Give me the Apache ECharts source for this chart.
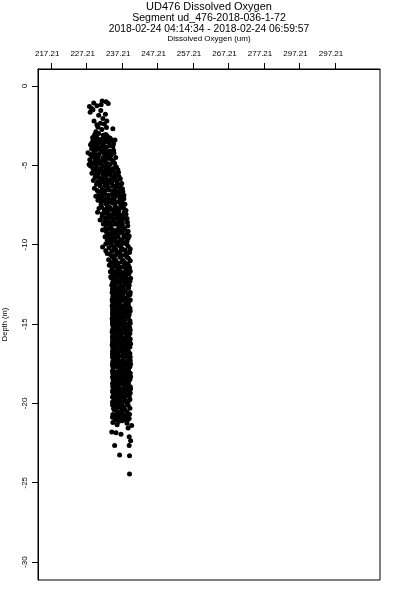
<!DOCTYPE html>
<html><head><meta charset="utf-8">
<script src="https://cdn.jsdelivr.net/npm/echarts@6/dist/echarts.min.js"></script>
<style>html,body{margin:0;padding:0;background:#fff}#c{width:400px;height:600px}</style>
</head><body><div id="c"></div>
<script>
const titleLines = ["UD476 Dissolved Oxygen", "Segment ud_476-2018-036-1-72", "2018-02-24 04:14:34 - 2018-02-24 06:59:57"];
const xAxisTitle = "Dissolved Oxygen (um)";
const yAxisTitle = "Depth (m)";
const xTickValues = [217.21, 227.21, 237.21, 247.21, 257.21, 267.21, 277.21, 287.21, 297.21];
const xTickLabels = ["217.21", "227.21", "237.21", "247.21", "257.21", "267.21", "277.21", "297.21", "297.21"];
const yTickValues = [0, -5, -10, -15, -20, -25, -30];
const yTickLabels = ["0", "-5", "-10", "-15", "-20", "-25", "-30"];

// [oxygen (um), depth (m)]
const band0to5 = [
 [231.6,-0.95],[232.7,-1.0],[233.3,-1.1],[228.0,-1.3],[230.1,-1.25],[229.0,-1.5],[231.2,-1.55],[228.2,-1.65],
 [230.6,-1.85],[232.5,-1.78],[231.8,-2.05],[229.3,-2.2],[231.1,-2.35],[232.2,-2.4],[230.4,-2.6],[234.6,-2.7],
 [229.2,-1.08],[231.3,-1.18],[228.6,-1.42],[232.9,-2.2],[230.1,-2.45],[231.5,-2.75],[229.8,-2.88],[232.8,-2.62],
 [229.5,-3.05],[230.6,-3.0],[231.9,-3.1],[233.0,-3.15],[228.9,-3.25],[230.2,-3.3],[231.4,-3.35],[232.5,-3.3],
 [234.3,-3.4],[235.2,-3.4],[229.6,-3.5],[230.8,-3.55],[232.0,-3.6],[233.4,-3.55],[228.3,-3.7],[229.2,-3.75],
 [231.5,-3.8],[232.8,-3.85],[234.6,-3.8],[228.6,-3.95],[230.1,-4.0],[231.2,-4.05],[233.7,-4.1],[227.6,-4.2],
 [229.4,-4.2],[230.7,-4.3],[232.3,-4.25],[234.1,-4.35],[228.8,-4.45],[231.9,-4.5],[233.2,-4.55],[235.4,-4.5],
 [228.1,-4.65],[229.7,-4.7],[230.9,-4.75],[232.6,-4.8],[234.7,-4.75],[229.0,-4.9],[231.4,-4.95],[233.8,-4.95],
 [230.0,-3.1],[232.6,-3.05],[233.8,-3.28],[231.0,-3.4],[229.0,-3.45],[232.8,-3.48],[234.8,-3.62],[230.3,-3.62],
 [228.7,-3.58],[231.9,-3.72],[233.8,-3.75],[229.8,-3.85],[230.8,-3.9],[232.3,-4.0],[234.8,-4.05],[229.2,-4.08],
 [231.4,-4.18],[233.0,-4.15],[228.3,-4.32],[230.0,-4.38],[232.9,-4.4],[234.9,-4.22],[229.5,-4.55],[230.5,-4.52],
 [234.0,-4.62],[228.5,-4.82],[232.0,-4.68],[230.2,-4.88],[233.1,-4.9],[235.1,-4.88],[227.9,-4.95]
];
const band5to10 = [
 [228.3,-5.05],[230.0,-5.1],[231.8,-5.05],[233.5,-5.15],[235.6,-5.1],[229.2,-5.3],[232.6,-5.35],[234.4,-5.3],[236.2,-5.45],[230.8,-5.45],[228.7,-5.5],
 [231.9,-5.6],[233.9,-5.6],[235.3,-5.7],[229.6,-5.75],[230.9,-5.8],[232.8,-5.85],[236.7,-5.85],[234.5,-5.95],[229.1,-5.95],
 [231.3,-6.05],[233.2,-6.1],[235.8,-6.05],[237.1,-6.15],[230.0,-6.2],[232.3,-6.3],[234.6,-6.3],[236.4,-6.4],[229.4,-6.45],[231.6,-6.5],
 [233.6,-6.55],[235.3,-6.6],[237.4,-6.65],[230.6,-6.7],[232.4,-6.8],[234.4,-6.85],[236.6,-6.9],[229.8,-6.95],[231.5,-7.0],
 [233.1,-7.05],[235.0,-7.1],[237.7,-7.1],[230.4,-7.2],[232.2,-7.25],[236.2,-7.3],[234.1,-7.35],[238.0,-7.45],[231.3,-7.45],
 [233.0,-7.55],[235.3,-7.6],[236.9,-7.65],[230.7,-7.7],[232.2,-7.8],[234.5,-7.8],[238.3,-7.85],[230.3,-7.95],[236.0,-7.95],
 [231.6,-8.05],[233.5,-8.1],[235.5,-8.1],[237.5,-8.2],[232.6,-8.3],[234.6,-8.35],[238.6,-8.35],[231.0,-8.45],[236.4,-8.5],
 [233.3,-8.55],[235.3,-8.6],[237.3,-8.65],[231.9,-8.7],[234.0,-8.8],[238.8,-8.8],[236.3,-8.9],[232.6,-8.95],[231.7,-9.07],
 [234.5,-9.05],[236.9,-9.1],[238.9,-9.15],[232.8,-9.2],[235.6,-9.3],[233.7,-9.35],[237.8,-9.4],[232.4,-9.5],[236.1,-9.5],
 [234.5,-9.55],[238.9,-9.6],[233.0,-9.7],[236.9,-9.7],[235.3,-9.8],[237.9,-9.9],[232.6,-9.95],[234.2,-10.0],
 [229.0,-5.2],[231.0,-5.22],[232.7,-5.12],[234.8,-5.2],[236.0,-5.28],[230.2,-5.38],[233.6,-5.42],[235.2,-5.48],
 [229.8,-5.58],[232.8,-5.6],[234.9,-5.75],[236.3,-5.7],[231.9,-5.88],[233.8,-5.92],[235.7,-5.98],
 [230.4,-6.02],[232.3,-6.08],[234.3,-6.12],[236.7,-6.22],[231.0,-6.28],[233.3,-6.38],[235.3,-6.42],[237.3,-6.48],
 [230.2,-6.58],[232.4,-6.6],[234.5,-6.62],[236.3,-6.68],[230.9,-6.85],[233.3,-6.88],[235.5,-6.92],[237.7,-6.88],
 [230.6,-7.05],[232.3,-7.1],[234.2,-7.15],[236.6,-7.08],[231.2,-7.25],[233.3,-7.3],[235.3,-7.35],[237.2,-7.28],
 [232.7,-7.42],[235.1,-7.45],[236.8,-7.5],[231.4,-7.62],[233.8,-7.65],[235.8,-7.72],[237.6,-7.68],[233.3,-7.88],[235.2,-7.92],[237.8,-7.95],
 [232.6,-8.02],[234.6,-8.08],[236.6,-8.12],[238.3,-8.08],[231.6,-8.22],[233.6,-8.28],[235.7,-8.32],[237.6,-8.38],
 [232.3,-8.48],[234.5,-8.52],[237.1,-8.52],[238.7,-8.58],[232.9,-8.68],[235.2,-8.72],[237.3,-8.82],[233.9,-8.92],[237.9,-8.98],
 [233.5,-9.02],[235.8,-9.08],[237.9,-9.05],[234.3,-9.22],[236.8,-9.25],[238.6,-9.32],[234.6,-9.42],[233.2,-9.38],
 [235.3,-9.58],[237.7,-9.55],[239.2,-9.45],[233.7,-9.62],[236.2,-9.82],[238.6,-9.78],[233.2,-9.88],[235.7,-9.98],[238.5,-9.98],
 [231.8,-5.33],[233.9,-5.47],[230.4,-5.67],[234.3,-5.83],[232.9,-6.23],[235.6,-6.27],[231.7,-6.73],[235.1,-6.77],[233.9,-7.27],[236.9,-7.37],
 [232.9,-7.73],[236.3,-7.83],[234.1,-8.23],[236.9,-8.33],[233.8,-8.63],[236.4,-8.73],[235.1,-9.17],[237.3,-9.27],[234.1,-9.77],[237.3,-9.83]
];
const band10to15 = [
 [236.3,-10.05],[238.9,-10.1],[231.7,-10.14],[233.5,-10.2],[235.2,-10.25],[237.5,-10.3],[234.3,-10.4],[236.7,-10.45],[239.3,-10.5],
 [233.0,-10.55],[235.6,-10.6],[237.9,-10.65],[234.4,-10.75],[236.6,-10.8],[239.0,-10.85],[233.4,-10.95],[235.4,-11.0],
 [237.6,-11.05],[234.1,-11.1],[236.2,-11.15],[238.8,-11.2],[233.6,-11.3],[235.3,-11.35],[237.3,-11.4],[239.3,-11.45],[234.4,-11.5],
 [236.3,-11.55],[238.3,-11.6],[233.9,-11.7],[235.3,-11.75],[237.4,-11.8],[239.1,-11.85],[234.6,-11.95],[236.5,-12.0],
 [238.2,-12.05],[234.2,-12.1],[235.7,-12.15],[237.3,-12.25],[239.4,-12.3],[234.6,-12.35],[236.5,-12.4],[238.4,-12.5],
 [234.3,-12.55],[235.3,-12.6],[237.4,-12.65],[239.0,-12.75],[234.5,-12.8],[236.3,-12.85],[238.1,-12.95],[234.4,-13.0],
 [235.6,-13.05],[237.4,-13.1],[239.4,-13.15],[234.6,-13.25],[236.5,-13.3],[238.4,-13.35],[234.4,-13.45],[235.5,-13.5],[237.4,-13.5],
 [239.1,-13.6],[234.6,-13.65],[236.4,-13.7],[238.3,-13.75],[234.4,-13.85],[235.6,-13.9],[237.5,-13.95],[239.4,-14.0],
 [234.5,-14.05],[236.3,-14.1],[238.3,-14.15],[234.5,-14.25],[235.6,-14.3],[237.4,-14.35],[239.2,-14.4],[234.6,-14.5],[236.5,-14.5],
 [238.4,-14.55],[234.4,-14.65],[235.6,-14.7],[237.5,-14.75],[239.4,-14.8],[234.5,-14.9],[236.4,-14.95],[238.3,-15.0],
 [234.9,-10.15],[237.0,-10.22],[238.1,-10.35],[232.6,-10.38],[235.9,-10.48],[239.5,-10.28],[233.9,-10.62],[236.9,-10.7],
 [238.6,-10.78],[235.0,-10.88],[237.4,-10.98],[239.5,-11.02],
 [235.0,-11.12],[234.1,-11.22],[237.9,-11.28],[236.6,-11.42],[238.6,-11.52],[235.8,-11.62],[234.4,-11.58],[239.5,-11.68],
 [236.9,-11.72],[237.9,-11.92],[235.2,-11.88],[234.0,-12.02],
 [236.9,-12.08],[239.6,-12.12],[234.9,-12.2],[238.6,-12.28],[236.0,-12.32],[237.9,-12.42],[234.5,-12.45],[239.2,-12.55],
 [236.8,-12.62],[235.8,-12.72],[238.8,-12.68],[234.9,-12.92],[237.0,-12.98],
 [239.5,-13.02],[234.6,-13.08],[236.2,-13.18],[238.9,-13.22],[235.2,-13.32],[237.9,-13.42],[239.5,-13.48],[236.8,-13.58],
 [234.5,-13.55],[235.3,-13.72],[238.9,-13.82],[236.9,-13.88],[234.7,-13.95],
 [238.0,-14.02],[235.3,-14.08],[239.5,-14.18],[236.9,-14.22],[234.5,-14.38],[238.6,-14.42],[236.0,-14.42],[235.2,-14.58],
 [237.0,-14.62],[238.9,-14.68],[234.5,-14.78],[236.2,-14.82],[239.5,-14.95],[235.3,-14.98],
 [235.5,-10.33],[238.4,-10.57],[234.8,-10.83],[237.2,-11.07],[239.0,-11.33],[236.0,-11.47],[234.9,-11.77],[238.0,-11.73],
 [235.6,-12.03],[237.7,-12.17],[239.0,-12.43],[235.3,-12.47],[237.6,-12.83],[236.0,-12.97],[238.8,-13.07],[235.0,-13.17],
 [237.2,-13.23],[236.1,-13.43],[238.2,-13.57],[235.7,-13.63],[237.8,-13.83],[234.9,-13.77],[236.4,-14.03],[238.8,-14.27],
 [235.9,-14.23],[237.3,-14.47],[235.0,-14.43],[239.0,-14.53],[236.4,-14.67],[237.9,-14.87],[235.8,-14.87],[234.8,-14.57],
 [236.9,-10.03],[235.2,-10.67],[237.9,-11.13],[236.3,-11.83],[238.6,-12.17],[236.6,-12.73],[239.0,-13.87],[237.6,-14.17]
];
const band15to20 = [
 [234.5,-15.05],[235.6,-15.1],[237.4,-15.15],[239.3,-15.2],[234.6,-15.3],[236.5,-15.35],[238.4,-15.4],[234.4,-15.5],[235.7,-15.5],
 [237.5,-15.55],[239.4,-15.6],[234.6,-15.7],[236.4,-15.75],[238.4,-15.8],[234.5,-15.9],[235.6,-15.95],[237.5,-16.0],
 [239.3,-16.05],[234.5,-16.1],[236.4,-16.15],[238.4,-16.2],[234.4,-16.3],[235.6,-16.35],[237.5,-16.4],[239.4,-16.45],[234.6,-16.5],
 [236.5,-16.55],[238.3,-16.6],[234.5,-16.7],[235.6,-16.75],[237.6,-16.8],[239.4,-16.85],[234.6,-16.95],[236.4,-17.0],
 [238.4,-17.05],[234.5,-17.1],[235.7,-17.15],[237.5,-17.25],[239.5,-17.3],[234.6,-17.35],[236.5,-17.4],[238.5,-17.45],[234.5,-17.5],
 [235.6,-17.55],[237.5,-17.6],[239.4,-17.7],[234.7,-17.75],[236.5,-17.8],[238.4,-17.85],[234.5,-17.95],[235.7,-18.0],
 [237.6,-18.05],[239.5,-18.1],[234.6,-18.15],[236.4,-18.25],[238.5,-18.3],[234.5,-18.35],[235.7,-18.4],[237.6,-18.45],[239.4,-18.5],
 [234.7,-18.55],[236.5,-18.6],[238.4,-18.65],[234.5,-18.75],[235.8,-18.8],[237.6,-18.85],[239.5,-18.95],[234.7,-19.0],
 [236.4,-19.05],[238.4,-19.1],[234.5,-19.2],[235.7,-19.25],[237.6,-19.3],[239.5,-19.35],[234.8,-19.4],[236.5,-19.5],[238.5,-19.5],
 [234.5,-19.6],[235.8,-19.65],[237.6,-19.7],[239.4,-19.75],[234.8,-19.85],[236.6,-19.9],[238.5,-20.0],
 [236.9,-15.02],[238.8,-15.08],[235.0,-15.18],[236.1,-15.22],[238.0,-15.28],[239.5,-15.38],[234.5,-15.42],[237.0,-15.45],
 [235.2,-15.62],[238.9,-15.68],[236.9,-15.72],[234.5,-15.78],[237.9,-15.92],[239.5,-15.95],
 [236.1,-16.02],[238.0,-16.08],[235.2,-16.18],[237.0,-16.22],[239.6,-16.25],[234.6,-16.38],[238.9,-16.42],[236.0,-16.48],
 [237.9,-16.58],[235.2,-16.62],[239.0,-16.72],[236.9,-16.68],[234.5,-16.88],[238.0,-16.92],[235.4,-16.98],
 [237.0,-17.02],[239.5,-17.08],[235.2,-17.22],[236.2,-17.28],[238.9,-17.32],[237.9,-17.42],[235.3,-17.45],[239.6,-17.52],
 [236.9,-17.58],[234.5,-17.62],[238.0,-17.68],[236.1,-17.72],[239.0,-17.92],[237.0,-17.88],
 [234.6,-18.02],[236.2,-18.08],[238.9,-18.12],[235.3,-18.22],[237.9,-18.28],[239.6,-18.32],[236.9,-18.38],[234.9,-18.45],
 [238.1,-18.52],[235.3,-18.62],[237.0,-18.68],[239.0,-18.72],[236.2,-18.88],[234.6,-18.92],[238.0,-18.98],
 [235.2,-19.02],[237.0,-19.12],[239.6,-19.08],[236.1,-19.18],[238.9,-19.22],[234.6,-19.32],[237.9,-19.42],[235.3,-19.48],
 [239.2,-19.55],[236.9,-19.58],[235.9,-19.78],[238.0,-19.82],[234.5,-19.92],[237.2,-19.98],
 [235.4,-15.27],[237.7,-15.23],[236.3,-15.47],[238.3,-15.63],[235.6,-15.83],[237.1,-15.87],[239.1,-15.87],[234.8,-16.03],
 [236.8,-16.33],[238.3,-16.37],[235.5,-16.57],[237.3,-16.63],[236.1,-16.87],[238.8,-16.93],[234.9,-17.17],[237.6,-17.13],
 [236.3,-17.47],[238.3,-17.57],[235.1,-17.67],[237.3,-17.83],[238.8,-17.97],[236.7,-17.97],[235.5,-18.17],[237.2,-18.17],
 [238.6,-18.43],[236.1,-18.53],[234.9,-18.67],[237.6,-18.73],[238.8,-18.83],[235.7,-19.07],[237.7,-19.17],[236.6,-19.33],
 [238.3,-19.37],[235.0,-19.57],[237.9,-19.63],[236.4,-19.73],[238.9,-19.87],[235.6,-19.93],[237.1,-16.47],[235.9,-17.33]
];
const band20to25 = [
 [234.5,-20.1],[236.0,-20.15],[237.7,-20.25],[239.4,-20.3],[235.0,-20.4],[236.8,-20.5],[238.6,-20.55],[234.6,-20.7],
 [236.2,-20.8],[238.0,-20.85],[239.2,-20.95],[235.3,-21.05],[237.3,-21.1],
 [235.2,-20.05],[238.9,-20.12],[236.8,-20.22],[234.8,-20.32],[238.0,-20.42],[235.8,-20.58],[239.3,-20.68],[237.2,-20.65],
 [234.5,-20.88],[237.0,-20.92],[235.6,-20.98],[238.7,-21.05],[236.2,-21.15],
 [235.7,-20.27],[237.6,-20.37],[236.4,-20.63],[238.3,-20.73],[235.1,-20.77],[237.8,-21.0],
 [234.6,-21.2],[235.8,-21.35],[238.6,-21.25],[239.9,-21.4],[238.9,-21.55],[234.3,-21.8],[235.5,-21.85],[236.9,-21.95],
 [239.2,-22.1],[239.6,-22.35],[239.2,-22.65],[235.1,-22.65],[236.5,-23.25],[239.3,-23.3],[239.3,-24.45]
];

const points = [].concat(band0to5, band5to10, band10to15, band15to20, band20to25);

const chart = echarts.init(document.getElementById('c'), null, {renderer: 'canvas'});
const font = "'Liberation Sans', Arial, sans-serif";
const cx = 209;
chart.setOption({
  animation: false,
  backgroundColor: '#fff',
  graphic: [
    {type: 'text', x: cx, y: 7, style: {text: titleLines[0], textAlign: 'center', textVerticalAlign: 'middle', font: '11px ' + font, fill: '#000'}},
    {type: 'text', x: cx, y: 18, style: {text: titleLines[1], textAlign: 'center', textVerticalAlign: 'middle', font: '10.6px ' + font, fill: '#000'}},
    {type: 'text', x: cx, y: 29.5, style: {text: titleLines[2], textAlign: 'center', textVerticalAlign: 'middle', font: '10.3px ' + font, fill: '#000'}},
    {type: 'text', x: cx, y: 38.5, style: {text: xAxisTitle, textAlign: 'center', textVerticalAlign: 'middle', font: '8px ' + font, fill: '#000'}}
  ],
  grid: {left: 38, top: 69, width: 342, height: 511, show: true, borderColor: '#000', borderWidth: 1,
         backgroundColor: 'transparent', containLabel: false, outerBoundsMode: 'none'},
  xAxis: {
    type: 'value', position: 'top', min: 213.5, max: 309.9,
    axisLine: {show: true, onZero: false, lineStyle: {color: '#000', width: 1}},
    axisTick: {show: true, inside: false, length: 6, customValues: xTickValues, lineStyle: {color: '#000'}},
    axisLabel: {
      customValues: xTickValues, margin: 11, fontSize: 8, fontFamily: font, color: '#000', padding: [0, 8, 0, 0],
      formatter: function (v) {
        const i = xTickValues.findIndex(t => Math.abs(t - v) < 1e-6);
        return i >= 0 ? xTickLabels[i] : '';
      }
    },
    splitLine: {show: false}
  },
  yAxis: {
    type: 'value', min: -31.13, max: 1.07,
    name: yAxisTitle, nameLocation: 'middle', nameRotate: 90, nameGap: 29,
    nameTextStyle: {fontSize: 7.5, fontFamily: font, color: '#000'},
    axisLine: {show: true, onZero: false, lineStyle: {color: '#000', width: 1}},
    axisTick: {show: true, inside: false, length: 6, customValues: yTickValues, lineStyle: {color: '#000'}},
    axisLabel: {
      customValues: yTickValues, rotate: 90, margin: 9, fontSize: 8, fontFamily: font, color: '#000',
      formatter: function (v) {
        const i = yTickValues.findIndex(t => Math.abs(t - v) < 1e-6);
        return i >= 0 ? yTickLabels[i] : '';
      }
    },
    splitLine: {show: false}
  },
  series: [{
    type: 'scatter', data: points, symbol: 'circle', symbolSize: 5,
    itemStyle: {color: '#000', opacity: 1}, silent: true
  }]
});
</script>
</body></html>
